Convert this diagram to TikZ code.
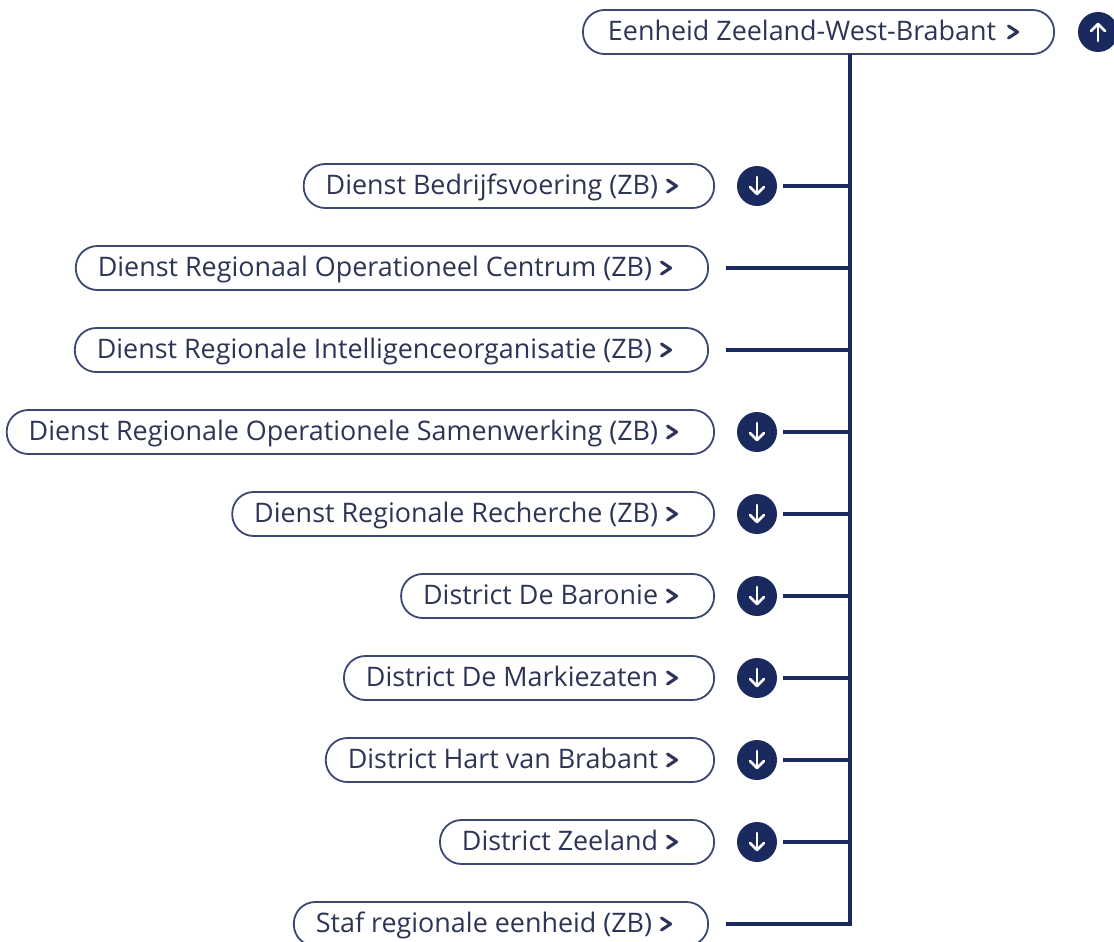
\documentclass[tikz,border=0pt]{standalone}
\usepackage{fontspec}
\usetikzlibrary{calc}
\setmainfont{Open Sans}
\definecolor{navy}{HTML}{1B2A5E}
\definecolor{txt}{HTML}{2E3456}
\definecolor{pillborder}{HTML}{3C4673}
\begin{document}
\begin{tikzpicture}[x=1pt,y=-1pt,
  pill/.style={draw=pillborder, line width=1.8pt, rounded corners=21.5pt,
    minimum height=44pt, inner xsep=0pt, inner ysep=0pt, anchor=east,
    text height=17pt, text depth=0pt,
    text=txt, font=\fontsize{26.9}{30}\selectfont},
  chev/.style={draw=txt, line width=3.1pt, line cap=round, line join=round},
  roundbtn/.style={circle, fill=navy, minimum size=40pt, inner sep=0pt},
  conn/.style={draw=navy, line width=3.2pt},
  arr/.style={draw=white, line width=2.8pt, line cap=round, line join=round}]
\useasboundingbox (0,0) rectangle (1114,942);

% top node
\node[pill] (top) at (1055,32) {\hspace{25pt}Eenheid Zeeland-West-Brabant\hspace{58pt}\mbox{}};
\draw[chev] ($(top.east)+(-46.5,-6)$) -- ($(top.east)+(-37.5,0)$) -- ($(top.east)+(-46.5,6)$);
\node[roundbtn] (up) at (1098,32) {};
\draw[arr] ($(up.center)+(0,9)$) -- ($(up.center)+(0,-8)$);
\draw[arr] ($(up.center)+(-7,-1)$) -- ($(up.center)+(0,-8)$) -- ($(up.center)+(7,-1)$);

\coordinate (trunktop) at (850,54);

% rows: name / y / right edge / text / has button
\foreach \n/\y/\r/\t/\b in {
  r1/186/715/{Dienst Bedrijfsvoering (ZB)}/1,
  r2/268/709/{Dienst Regionaal Operationeel Centrum (ZB)}/0,
  r3/350/709/{Dienst Regionale Intelligenceorganisatie (ZB)}/0,
  r4/432/715/{Dienst Regionale Operationele Samenwerking (ZB)}/1,
  r5/514/715/{Dienst Regionale Recherche (ZB)}/1,
  r6/596/715/{District De Baronie}/1,
  r7/678/715/{District De Markiezaten}/1,
  r8/760/715/{District Hart van Brabant}/1,
  r9/842/715/{District Zeeland}/1,
  r10/924/709/{Staf regionale eenheid (ZB)}/0}{
  \node[pill] (\n) at (\r,\y) {\hspace{22pt}\t\hspace{56pt}\mbox{}};
  \draw[chev] ($(\n.east)+(-47.5,-6)$) -- ($(\n.east)+(-38.5,0)$) -- ($(\n.east)+(-47.5,6)$);
  \coordinate (\n j) at (850,\y);
  \ifnum\b=1
    \node[roundbtn] (\n b) at (757,\y) {};
    \draw[arr] ($(\n b.center)+(0,-9)$) -- ($(\n b.center)+(0,8)$);
    \draw[arr] ($(\n b.center)+(-7,1)$) -- ($(\n b.center)+(0,8)$) -- ($(\n b.center)+(7,1)$);
    \draw[conn] ($(\n b.east)+(6,0)$) -- (\n j);
  \else
    \draw[conn] ($(\n.east)+(17,0)$) -- (\n j);
  \fi
}
\draw[conn, line join=miter] (trunktop) -- (r10j) -- ($(r10.east)+(17,0)$);
\end{tikzpicture}
\end{document}
